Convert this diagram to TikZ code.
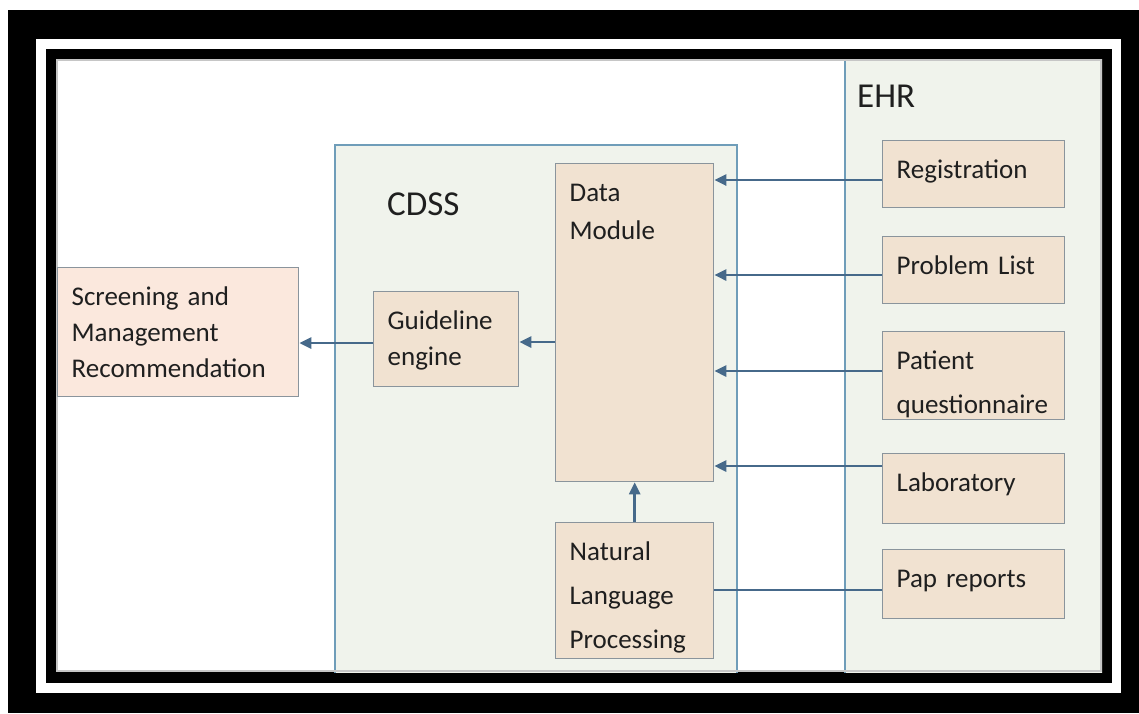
\documentclass[tikz,border=0pt]{standalone}
\usepackage{fontspec}
\setmainfont{Carlito}
\usetikzlibrary{arrows.meta}

\definecolor{panelfill}{HTML}{F0F3EC}
\definecolor{panelline}{HTML}{6F9DB9}
\definecolor{boxfill}{HTML}{F1E2D1}
\definecolor{recfill}{HTML}{FBE8DD}
\definecolor{boxline}{HTML}{8A949C}
\definecolor{linkcol}{HTML}{46698A}
\definecolor{txtcol}{HTML}{1F1F1F}

\newcommand{\bxfont}{\fontsize{27}{36}\selectfont}
\newcommand{\pnlfont}{\fontsize{35}{42}\selectfont}

\begin{document}
\begin{tikzpicture}[x=1pt,y=-1pt,
    box/.style={draw=boxline, line width=1.3pt, fill=boxfill, anchor=north west,
      align=left, font=\bxfont, text=txtcol, inner xsep=14pt, inner ysep=0pt,
      text height=38pt},
    title/.style={anchor=base west, font=\pnlfont, text=txtcol, inner sep=0pt},
    link/.style={draw=linkcol, line width=2.6pt},
    arr/.style={link, -{Triangle[length=12pt,width=11pt]}},
    panel/.style={draw=panelline, line width=1.8pt, fill=panelfill}]
  \useasboundingbox (0,0) rectangle (1139,713);

  % ---- double black frame -------------------------
  \fill[white] (0,0) rectangle (1139,713);
  \fill[black] (8,10) rectangle (1139,713);
  \fill[white] (36,39) rectangle (1121,693);
  \fill[black] (46,49) rectangle (1112,683);
  \fill[white] (56,59) rectangle (1102,672);

  % ---- panels, cut off by the frame ---------------
  \begin{scope}
    \clip (56,59) rectangle (1102,672);
    \draw[panel] (335,145) rectangle (737,690);
    \draw[panel] (845,40) rectangle (1120,690);
    \draw[gray!45, line width=2pt] (57,60) rectangle (1101,671);
  \end{scope}
  \node[title] (cdss) at (387,215) {CDSS};
  \node[title] (ehr) at (857,107) {EHR};

  % ---- CDSS side ----------------------------------
  \node[box, fill=recfill, text width=213pt, text depth=91pt] (scr) at (57,267)
    {Screening and\\Management\\Recommendation};
  \node[box, text width=117pt, text depth=57pt] (gde) at (373,291) {Guideline\\engine};
  \node[box, text width=130pt, text depth=280pt] (dat) at (555,163) {Data\\[2pt]Module};
  \node[box, text width=130pt, text depth=98pt] (nlp) at (555,522)
    {Natural\\[8pt]Language\\[8pt]Processing};

  % ---- EHR sources --------------------------------
  \node[box, text width=154pt, text depth=29pt] (reg) at (882,140) {Registration};
  \node[box, text width=154pt, text depth=29pt] (prb) at (882,236) {Problem List};
  \node[box, text width=154pt, text depth=50pt] (pat) at (882,331) {Patient\\[8pt]questionnaire};
  \node[box, text width=154pt, text depth=32pt] (lab) at (882,453) {Laboratory};
  \node[box, text width=154pt, text depth=31pt] (pap) at (882,549) {Pap reports};

  % ---- connectors ---------------------------------
  \draw[arr] (reg.west |- 0,180) -- (dat.east |- 0,180);
  \draw[arr] (prb.west |- 0,275) -- (dat.east |- 0,275);
  \draw[arr] (pat.west |- 0,371) -- (dat.east |- 0,371);
  \draw[arr] (lab.west |- 0,466) -- (dat.east |- 0,466);
  \draw[link] (pap.west |- 0,590) -- (nlp.east |- 0,590);
  \draw[arr] (nlp.north) -- (dat.south);
  \draw[arr] (dat.west |- 0,342) -- (gde.east |- 0,342);
  \draw[arr] (gde.west |- 0,343) -- (scr.east |- 0,343);
\end{tikzpicture}
\end{document}
